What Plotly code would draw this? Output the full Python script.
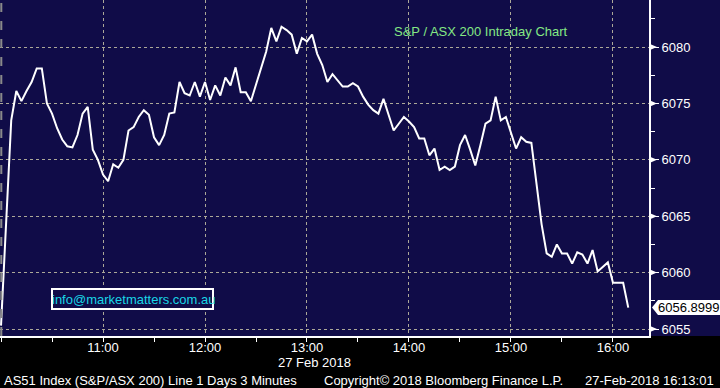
import pandas as pd
import plotly.graph_objects as go

# ---- data ----
start_time = "2018-02-27 10:00"
interval = "3min"
prices = [
    6055.3, 6064.3, 6073.5, 6076.1, 6075.2, 6076.1, 6076.9, 6078.1, 6078.1, 6075.0,
    6074.1, 6072.8, 6071.8, 6071.2, 6071.1, 6072.2, 6074.1, 6074.7, 6070.9, 6070.0,
    6068.7, 6068.1, 6069.6, 6069.3, 6070.0, 6072.6, 6072.9, 6073.8, 6074.4, 6074.0,
    6072.0, 6071.3, 6072.2, 6074.1, 6074.2, 6076.9, 6075.9, 6075.7, 6076.9, 6075.6,
    6076.9, 6075.3, 6076.6, 6075.7, 6077.3, 6076.6, 6078.2, 6076.0, 6076.0, 6075.2,
    6076.6, 6078.1, 6079.6, 6081.7, 6080.5, 6081.8, 6081.5, 6081.1, 6079.4, 6080.8,
    6080.5, 6081.1, 6079.4, 6078.4, 6076.9, 6077.6, 6077.0, 6076.5, 6076.5, 6076.8,
    6076.5, 6075.6, 6074.9, 6074.4, 6074.1, 6075.4, 6074.0, 6072.6, 6073.2, 6073.8,
    6073.4, 6072.9, 6071.9, 6071.9, 6070.4, 6071.0, 6069.1, 6069.4, 6069.1, 6069.4,
    6071.3, 6072.2, 6070.9, 6069.5, 6071.3, 6073.2, 6073.5, 6075.6, 6073.5, 6073.8,
    6072.4, 6071.0, 6072.0, 6071.6, 6071.5, 6067.9, 6064.3, 6061.7, 6061.4, 6062.5,
    6061.7, 6061.7, 6060.8, 6061.8, 6061.6, 6060.8, 6062.0, 6060.1, 6060.5, 6060.9,
    6059.1, 6059.1, 6059.1, 6056.8999,
]
times = pd.date_range(start_time, periods=len(prices), freq=interval)

y_ticks = [6055, 6060, 6065, 6070, 6075, 6080]
x_tick_times = ["2018-02-27 11:00", "2018-02-27 12:00", "2018-02-27 13:00",
                "2018-02-27 14:00", "2018-02-27 15:00", "2018-02-27 16:00"]
x_tick_labels = ["11:00", "12:00", "13:00", "14:00", "15:00", "16:00"]
last_label = "6056.8999"
title_text = "S&P / ASX 200 Intraday Chart"
info_text = "info@marketmatters.com.au"
date_text = "27 Feb 2018"
footer_left = "AS51 Index (S&P/ASX 200) Line 1 Days 3 Minutes"
footer_mid = "Copyright\u00a9 2018 Bloomberg Finance L.P."
footer_right = "27-Feb-2018 16:13:01"

NAVY = "#100c48"
GRID = "#aca898"
FONT = "Liberation Sans, Arial, sans-serif"

fig = go.Figure()
fig.add_trace(go.Scatter(x=times, y=prices, mode="lines",
                         line=dict(color="white", width=2), hoverinfo="skip"))

W, H = 720, 388
L, R, T, B = 0, 71, 0, 52
pw, ph = W - L - R, H - T - B
y_range = [6054.38, 6084.17]
px_per_unit = ph / (y_range[1] - y_range[0])

fig.update_layout(
    width=W, height=H,
    margin=dict(l=L, r=R, t=T, b=B, autoexpand=False),
    paper_bgcolor="black", plot_bgcolor=NAVY,
    showlegend=False,
    font=dict(family=FONT, color="white", size=13),
    xaxis=dict(
        type="date",
        range=["2018-02-27 09:59:24", "2018-02-27 16:21:12"],
        tickmode="array", tickvals=x_tick_times, ticktext=x_tick_labels,
        ticks="", ticklabelstandoff=-2,
        showline=True, linecolor="white", linewidth=2,
        showgrid=True, gridcolor=GRID, griddash="dot", gridwidth=1,
        zeroline=False, tickfont=dict(size=13, color="white"),
        minor=dict(dtick=30 * 60 * 1000, ticks="outside", ticklen=4,
                   tickcolor="white", showgrid=False),
    ),
    yaxis=dict(
        side="right", range=y_range,
        tickmode="array", tickvals=y_ticks,
        ticks="outside", ticklen=8, tickwidth=1, tickcolor="white",
        showline=True, linecolor="white", linewidth=2,
        showgrid=True, gridcolor=GRID, griddash="dot", gridwidth=1,
        zeroline=False, tickfont=dict(size=13, color="white"),
        minor=dict(dtick=2.5, ticks="outside", ticklen=4, tickcolor="white",
                   showgrid=False),
    ),
)

shapes = []
# navy area to the right of the plot (behind y labels)
shapes.append(dict(type="rect", xref="paper", yref="paper", x0=1, x1=W / pw,
                   y0=0, y1=1, fillcolor=NAVY, line_width=0, layer="below"))
# left dashed border
shapes.append(dict(type="line", xref="paper", yref="paper", x0=0.002, x1=0.002,
                   y0=0, y1=1, line=dict(color="#8a8a8a", width=2, dash="dash")))
# triangular tick pointers on the right axis
half = 3 / px_per_unit
for v in y_ticks:
    shapes.append(dict(type="path", xref="paper", yref="y",
                       path=f"M {650 / pw},{v - half} L {657 / pw},{v} L {650 / pw},{v + half} Z",
                       fillcolor="white", line_width=0))
# info box
shapes.append(dict(type="rect", xref="paper", yref="paper",
                   x0=52 / pw, x1=213 / pw, y0=1 - 309 / ph, y1=1 - 289 / ph,
                   line=dict(color="white", width=2), fillcolor=NAVY))
# last value pointer box
last = prices[-1]
bh = 7.5 / px_per_unit
shapes.append(dict(type="path", xref="paper", yref="y",
                   path=f"M {652 / pw},{last} L {658 / pw},{last + bh} "
                        f"L {720 / pw},{last + bh} L {720 / pw},{last - bh} "
                        f"L {658 / pw},{last - bh} Z",
                   fillcolor="white", line_width=0))
fig.update_layout(shapes=shapes)

ann = []
ann.append(dict(text=title_text, xref="paper", yref="paper", x=392 / pw, y=1 - 31 / ph,
                xanchor="left", yanchor="middle", showarrow=False,
                font=dict(size=13, color="#84e884", family=FONT)))
ann.append(dict(text=info_text, xref="paper", yref="paper", x=133 / pw, y=1 - 299 / ph,
                xanchor="center", yanchor="middle", showarrow=False,
                font=dict(size=13, color="#19d6e6", family=FONT)))
ann.append(dict(text=last_label, xref="paper", yref="y", x=656 / pw, y=last,
                xanchor="left", yanchor="middle", showarrow=False,
                font=dict(size=13, color="black", family=FONT)))
ann.append(dict(text=date_text, xref="paper", yref="paper", x=353 / pw, y=-(362 - ph) / ph,
                xanchor="right", yanchor="middle", showarrow=False,
                font=dict(size=13, color="white", family=FONT)))
for txt, px, anchor in [(footer_left, 2, "left"), (footer_mid, 322, "left"),
                        (footer_right, 716, "right")]:
    ann.append(dict(text=txt, xref="paper", yref="paper", x=px / pw, y=-(380 - ph) / ph,
                    xanchor=anchor, yanchor="middle", showarrow=False,
                    font=dict(size=13, color="white", family=FONT)))
fig.update_layout(annotations=ann)

fig.write_html("out.html", config={"displayModeBar": False},
               post_script="document.body.style.margin='0';"
                           "document.body.style.background='black';")
